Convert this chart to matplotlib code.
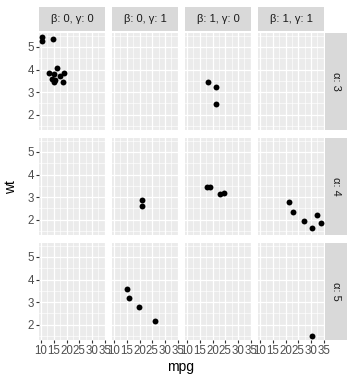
import numpy as np
import matplotlib
matplotlib.use("Agg")
import matplotlib.pyplot as plt
from matplotlib.ticker import MultipleLocator

plt.rcParams['font.family'] = ['Liberation Sans', 'DejaVu Sans']

# mtcars: mpg, wt, vs, am, gear
mpg = [21.0, 21.0, 22.8, 21.4, 18.7, 18.1, 14.3, 24.4, 22.8, 19.2, 17.8, 16.4,
       17.3, 15.2, 10.4, 10.4, 14.7, 32.4, 30.4, 33.9, 21.5, 15.5, 15.2, 13.3,
       19.2, 27.3, 26.0, 30.4, 15.8, 19.7, 15.0, 21.4]
wt = [2.620, 2.875, 2.320, 3.215, 3.440, 3.460, 3.570, 3.190, 3.150, 3.440,
      3.440, 4.070, 3.730, 3.780, 5.250, 5.424, 5.345, 2.200, 1.615, 1.835,
      2.465, 3.520, 3.435, 3.840, 3.845, 1.935, 2.140, 1.513, 3.170, 2.770,
      3.570, 2.780]
vs = [0, 0, 1, 1, 0, 1, 0, 1, 1, 1, 1, 0, 0, 0, 0, 0, 0, 1, 1, 1, 1, 0, 0, 0,
      0, 1, 0, 1, 0, 0, 0, 1]
am = [1, 1, 1, 0, 0, 0, 0, 0, 0, 0, 0, 0, 0, 0, 0, 0, 0, 1, 1, 1, 0, 0, 0, 0,
      0, 1, 1, 1, 1, 1, 1, 1]
gear = [4, 4, 4, 3, 3, 3, 3, 4, 4, 4, 4, 3, 3, 3, 3, 3, 3, 4, 4, 4, 3, 3, 3, 3,
        3, 4, 5, 5, 5, 5, 5, 4]

col_keys = [(0, 0), (0, 1), (1, 0), (1, 1)]
row_keys = [3, 4, 5]

mpg = np.array(mpg)
wt = np.array(wt)
vs = np.array(vs)
am = np.array(am)
gear = np.array(gear)

W, H = 355, 384
fig = plt.figure(figsize=(W / 100, H / 100), dpi=100)

def px(x0, y0, x1, y1):
    return [x0 / W, 1 - y1 / H, (x1 - x0) / W, (y1 - y0) / H]

col_x = [39, 112, 185, 258]
pw = 66
row_y = [33, 138, 243]
ph = 97

xr = (mpg.min() - 0.05 * np.ptp(mpg), mpg.max() + 0.05 * np.ptp(mpg))
yr = (wt.min() - 0.05 * np.ptp(wt), wt.max() + 0.05 * np.ptp(wt))

for i, g in enumerate(row_keys):
    for j, (b, c) in enumerate(col_keys):
        x0, y0 = col_x[j], row_y[i]
        ax = fig.add_axes(px(x0, y0, x0 + pw, y0 + ph))
        ax.set_facecolor('#EBEBEB')
        for s in ax.spines.values():
            s.set_visible(False)
        ax.set_xlim(xr)
        ax.set_ylim(yr)
        ax.xaxis.set_major_locator(MultipleLocator(5))
        ax.xaxis.set_minor_locator(MultipleLocator(2.5))
        ax.yaxis.set_major_locator(MultipleLocator(1))
        ax.yaxis.set_minor_locator(MultipleLocator(0.5))
        ax.grid(which='major', color='white', lw=0.9)
        ax.grid(which='minor', color='white', lw=0.45)
        ax.set_axisbelow(True)
        ax.tick_params(which='minor', length=0)
        ax.tick_params(which='major', length=2.5, width=0.8, color='#333333',
                       labelsize=8.3, labelcolor='#4D4D4D', pad=1)
        if j > 0:
            ax.tick_params(axis='y', left=False, labelleft=False)
        if i < 2:
            ax.tick_params(axis='x', bottom=False, labelbottom=False)
        m = (vs == b) & (am == c) & (gear == g)
        ax.scatter(mpg[m], wt[m], s=18, color='black', linewidths=0, zorder=3)

        if i == 0:
            sa = fig.add_axes(px(x0, 7, x0 + pw, 31))
            sa.set_facecolor('#D9D9D9')
            sa.set_xticks([]); sa.set_yticks([])
            for s in sa.spines.values():
                s.set_visible(False)
            sa.text(0.5, 0.5, 'β: %d, γ: %d' % (b, c), ha='center', va='center',
                    fontsize=8, color='#1A1A1A', transform=sa.transAxes)
    ra = fig.add_axes(px(325, row_y[i], 347, row_y[i] + ph))
    ra.set_facecolor('#D9D9D9')
    ra.set_xticks([]); ra.set_yticks([])
    for s in ra.spines.values():
        s.set_visible(False)
    ra.text(0.5, 0.5, 'α: %d' % g, ha='center', va='center', rotation=-90,
            fontsize=8, color='#1A1A1A', transform=ra.transAxes)

fig.text(11 / W, 1 - 187 / H, 'wt', rotation=90, ha='center', va='center',
         fontsize=10, color='black')
fig.text(181 / W, 1 - 367 / H, 'mpg', ha='center', va='center',
         fontsize=10, color='black')

fig.savefig('out.png', dpi=100)
